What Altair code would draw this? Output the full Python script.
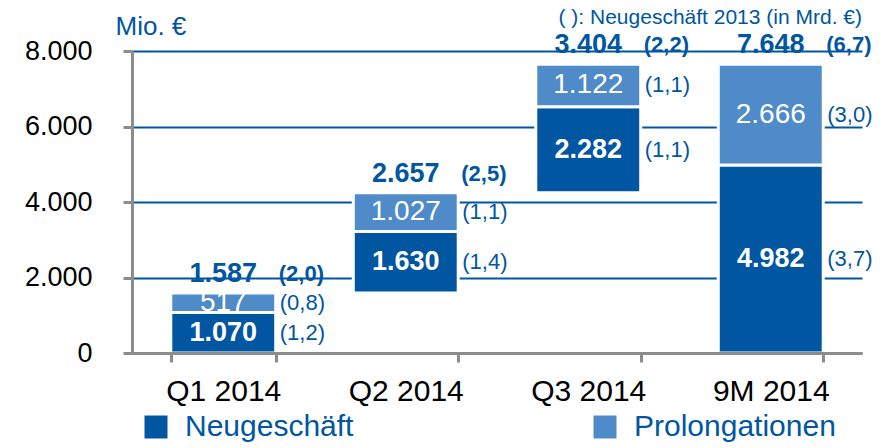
import altair as alt
import pandas as pd

# ---- data ----
categories = ["Q1 2014", "Q2 2014", "Q3 2014", "9M 2014"]
series_names = ["Neugeschäft", "Prolongationen"]
neugeschaeft = [1070, 1630, 2282, 4982]
prolongationen = [517, 1027, 1122, 2666]
neu_2013 = ["(1,2)", "(1,4)", "(1,1)", "(3,7)"]
prol_2013 = ["(0,8)", "(1,1)", "(1,1)", "(3,0)"]
total_2013 = ["(2,0)", "(2,5)", "(2,2)", "(6,7)"]
y_ticks = [0, 2000, 4000, 6000, 8000]
note_text = "( ): Neugeschäft 2013 (in Mrd. €)"
unit_text = "Mio. €"

# ---- styles ----
FONT = "Liberation Sans"
BLUE = "#0056A0"
LIGHT = "#4F8BC8"
GRAY = "#8C8C8C"


def de(v):
    return f"{v:,}".replace(",", ".")


# waterfall: the quarters stack on the running total, 9M starts from zero
seg_rows, tot_rows = [], []
running = 0
for i, cat in enumerate(categories):
    base = 0 if cat.startswith("9M") else running
    total = neugeschaeft[i] + prolongationen[i]
    parts = [(series_names[0], neugeschaeft[i], neu_2013[i]),
             (series_names[1], prolongationen[i], prol_2013[i])]
    lo = base
    for name, val, prev in parts:
        seg_rows.append({"cat": cat, "series": name, "y0": lo, "y1": lo + val,
                         "mid": lo + val / 2, "label": de(val), "prev": prev})
        lo += val
    tot_rows.append({"cat": cat, "top": base + total, "label": de(total),
                     "prev": total_2013[i]})
    if not cat.startswith("9M"):
        running = base + total

seg = pd.DataFrame(seg_rows)
tot = pd.DataFrame(tot_rows)

x_scale = alt.Scale(paddingInner=0.425, paddingOuter=0.2125)
y_scale = alt.Scale(domain=[0, 8000], nice=False)

x_axis = alt.Axis(title=None, labelAngle=0, labelFontSize=30, labelColor="black",
                  labelFont=FONT, labelPadding=14, tickBand="extent", tickSize=9,
                  tickWidth=3, tickColor=GRAY, domainColor=GRAY, domainWidth=3,
                  grid=False, zindex=1, labelLimit=300)

y_axis = alt.Axis(values=y_ticks,
                  labelExpr="replace(format(datum.value, ',d'), ',', '.')",
                  labelFontSize=27, labelColor="black", labelFont=FONT,
                  labelPadding=31, tickSize=9, tickWidth=3, tickColor=GRAY,
                  domainColor=GRAY, domainWidth=3, grid=True, gridColor=BLUE,
                  gridWidth=2, title=unit_text, titleAngle=0, titleAlign="left",
                  titleBaseline="alphabetic", titleX=-17, titleY=-17,
                  titleFontSize=26, titleFontWeight="normal", titleColor=BLUE,
                  titleFont=FONT)


def X(band=None):
    if band is None:
        return alt.X("cat:N", sort=categories, scale=x_scale, axis=x_axis)
    return alt.X("cat:N", sort=categories, scale=x_scale, axis=x_axis,
                 bandPosition=band)


def Y(field):
    return alt.Y(f"{field}:Q", scale=y_scale, axis=y_axis, title=unit_text)


legend = alt.Legend(orient="none", legendX=9, legendY=361, direction="horizontal",
                    title=None, symbolType="square", symbolSize=529,
                    symbolStrokeWidth=0, labelFontSize=30, labelColor=BLUE,
                    labelFont=FONT, labelOffset=14, columnPadding=236,
                    labelLimit=400, padding=0)

bars = alt.Chart(seg).mark_bar(stroke="white", strokeWidth=3).encode(
    x=X(),
    y=Y("y0"),
    y2="y1:Q",
    color=alt.Color("series:N", scale=alt.Scale(domain=series_names,
                                                range=[BLUE, LIGHT]),
                    legend=legend),
)

neu_txt = alt.Chart(seg).transform_filter(
    alt.datum.series == series_names[0]
).mark_text(font=FONT, fontSize=27, fontWeight="bold", color="white").encode(
    x=X(), y=Y("mid"), text="label:N")

prol_txt = alt.Chart(seg).transform_filter(
    alt.datum.series == series_names[1]
).mark_text(font=FONT, fontSize=28, color="white").encode(
    x=X(), y=Y("mid"), text="label:N")

side_txt = alt.Chart(seg).mark_text(font=FONT, fontSize=22, color=BLUE,
                                     align="left", dx=4).encode(
    x=X(1), y=Y("mid"), text="prev:N")

tot_txt = alt.Chart(tot).mark_text(font=FONT, fontSize=27, fontWeight="bold",
                                   color=BLUE, dy=-19).encode(
    x=X(), y=Y("top"), text="label:N")

tot_prev = alt.Chart(tot).mark_text(font=FONT, fontSize=22, fontWeight="bold",
                                    color=BLUE, align="left", dx=3, dy=-19).encode(
    x=X(1), y=Y("top"), text="prev:N")

chart = alt.layer(bars, neu_txt, prol_txt, side_txt, tot_txt, tot_prev).properties(
    width=730,
    height=302,
    autosize=alt.AutoSizeParams(type="none"),
    padding={"left": 124, "top": 43, "right": 17, "bottom": 92},
    title=alt.Title(note_text, anchor="end", frame="group", fontSize=21,
                    fontWeight="normal", color=BLUE, font=FONT, offset=-15),
).configure_view(stroke=None)

chart.save("out.html", embed_options={"renderer": "svg", "actions": False})
